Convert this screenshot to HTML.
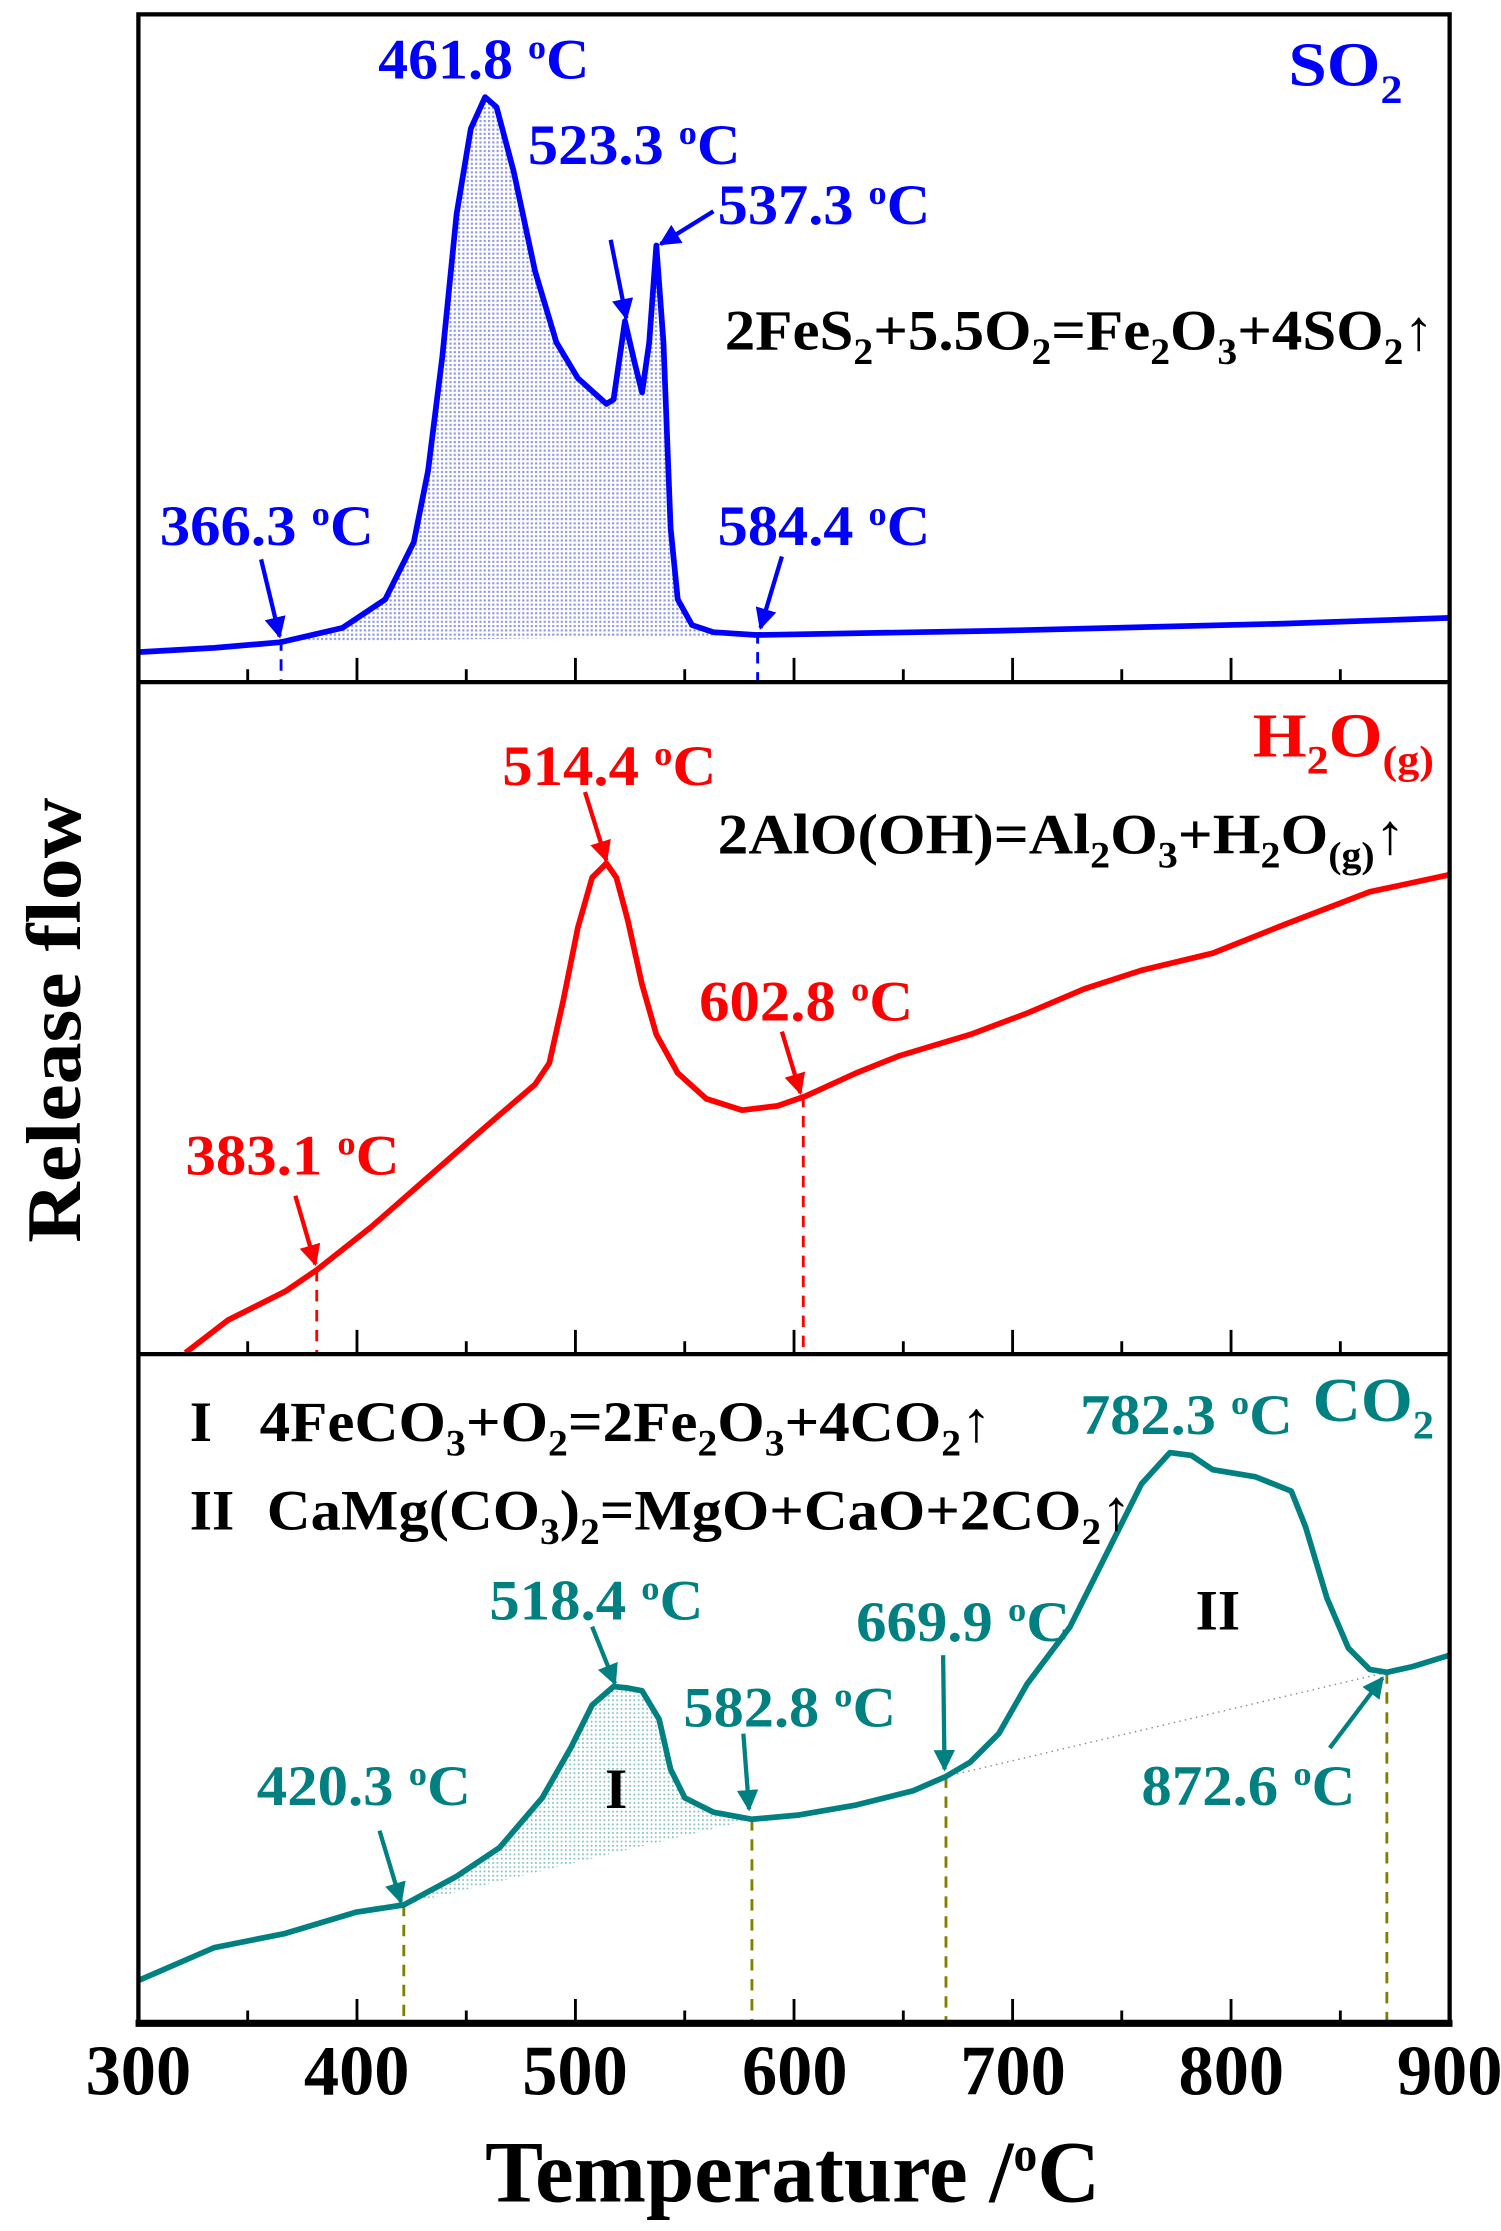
<!DOCTYPE html>
<html><head><meta charset="utf-8"><style>html,body{margin:0;padding:0;background:#fff}svg{display:block}</style></head>
<body>
<svg width="1501" height="2231" viewBox="0 0 1052 1563.5" xmlns="http://www.w3.org/2000/svg" font-family="Liberation Serif, serif" font-weight="bold">
<defs>
<pattern id="pb" width="3" height="3" patternUnits="userSpaceOnUse"><rect width="3" height="3" fill="#fff"/><rect width="1.5" height="1.5" fill="#8c96e6"/></pattern>
<pattern id="pt" width="3" height="3" patternUnits="userSpaceOnUse"><rect width="3" height="3" fill="#fff"/><rect width="1.2" height="1.2" fill="#7fbfbf"/></pattern>
<marker id="ab" viewBox="0 0 10 10" refX="9" refY="5" markerWidth="5" markerHeight="5" orient="auto"><path d="M0,0L10,5L0,10z" fill="#0000ff"/></marker>
<marker id="ar" viewBox="0 0 10 10" refX="9" refY="5" markerWidth="5" markerHeight="5" orient="auto"><path d="M0,0L10,5L0,10z" fill="#ff0000"/></marker>
<marker id="at" viewBox="0 0 10 10" refX="9" refY="5" markerWidth="5" markerHeight="5" orient="auto"><path d="M0,0L10,5L0,10z" fill="#008080"/></marker>
</defs>

<!-- SO2 fill -->
<path d="M197,450 L240,440 L270,420 L290,380 L300,330 L310,250 L320,150 L330,90 L340,68 L348,75 L360,120 L375,190 L390,240 L405,265 L425,283 L430,280 L438,225 L445,255 L450,275 L455,240 L460,172 L465,240 L470,370 L475,420 L485,438 L500,443 L530,445 Z" fill="url(#pb)"/>
<!-- CO2 fill I -->
<path d="M283,1335 L320,1315 L350,1295 L380,1260 L400,1225 L415,1195 L430,1182 L440,1183 L450,1185 L462,1205 L470,1240 L480,1260 L500,1270 L527,1275 Z" fill="url(#pt)"/>
<line x1="663" y1="1245" x2="972" y2="1172" stroke="#888" stroke-width="1" stroke-dasharray="1,3"/>

<!-- dashed lines -->
<g stroke-width="2" stroke-dasharray="8,6">
<line x1="197" y1="448" x2="197" y2="478" stroke="#0000ff"/>
<line x1="531" y1="443" x2="531" y2="478" stroke="#0000ff"/>
<line x1="222" y1="890" x2="222" y2="949" stroke="#ff0000"/>
<line x1="563" y1="768" x2="563" y2="949" stroke="#ff0000"/>
<line x1="283" y1="1335" x2="283" y2="1418" stroke="#808000"/>
<line x1="527" y1="1275" x2="527" y2="1418" stroke="#808000"/>
<line x1="663" y1="1245" x2="663" y2="1418" stroke="#808000"/>
<line x1="972" y1="1172" x2="972" y2="1418" stroke="#808000"/>
</g>

<!-- curves -->
<g fill="none" stroke-width="4" stroke-linejoin="round">
<path stroke="#0000ff" d="M97,457 L150,454 L197,450 L240,440 L270,420 L290,380 L300,330 L310,250 L320,150 L330,90 L340,68 L348,75 L360,120 L375,190 L390,240 L405,265 L425,283 L430,280 L438,225 L445,255 L450,275 L455,240 L460,172 L465,240 L470,370 L475,420 L485,438 L500,443 L530,445 L700,442 L900,437 L1016,433"/>
<path stroke="#ff0000" d="M130,948 L160,925 L200,905 L222,890 L260,860 L300,825 L340,790 L375,760 L385,745 L395,700 L405,650 L415,615 L425,605 L432,615 L440,645 L450,690 L460,725 L475,752 L495,770 L520,778 L545,775 L565,768 L600,752 L630,740 L680,725 L720,710 L760,693 L800,680 L850,668 L900,648 L960,625 L1016,613"/>
<path stroke="#008080" d="M97,1388 L150,1365 L200,1355 L250,1340 L283,1335 L320,1315 L350,1295 L380,1260 L400,1225 L415,1195 L430,1182 L440,1183 L450,1185 L462,1205 L470,1240 L480,1260 L500,1270 L527,1275 L560,1272 L600,1265 L640,1255 L663,1245 L680,1235 L700,1215 L720,1180 L750,1140 L775,1090 L800,1040 L820,1018 L835,1020 L850,1030 L880,1035 L905,1045 L915,1070 L930,1120 L945,1155 L960,1170 L972,1172 L990,1168 L1016,1160"/>
</g>

<!-- frame -->
<g stroke="#000" fill="none">
<rect x="97" y="10" width="919" height="1408" stroke-width="3"/>
<line x1="97" y1="478" x2="1016" y2="478" stroke-width="3"/>
<line x1="97" y1="949" x2="1016" y2="949" stroke-width="3"/>
<line x1="95" y1="1418" x2="1018" y2="1418" stroke-width="5"/>
<path stroke-width="2" d="M250.2,478v-17M403.3,478v-17M556.5,478v-17M709.7,478v-17M862.8,478v-17M173.6,478v-9M326.8,478v-9M479.9,478v-9M633.1,478v-9M786.2,478v-9M939.4,478v-9
M250.2,949v-17M403.3,949v-17M556.5,949v-17M709.7,949v-17M862.8,949v-17M173.6,949v-9M326.8,949v-9M479.9,949v-9M633.1,949v-9M786.2,949v-9M939.4,949v-9
M250.2,1418v-17M403.3,1418v-17M556.5,1418v-17M709.7,1418v-17M862.8,1418v-17M173.6,1418v-9M326.8,1418v-9M479.9,1418v-9M633.1,1418v-9M786.2,1418v-9M939.4,1418v-9"/>
</g>

<!-- tick labels -->
<g font-size="50" text-anchor="middle" fill="#000">
<text x="97" y="1468" textLength="74" lengthAdjust="spacingAndGlyphs">300</text>
<text x="250" y="1468" textLength="74" lengthAdjust="spacingAndGlyphs">400</text>
<text x="403" y="1468" textLength="74" lengthAdjust="spacingAndGlyphs">500</text>
<text x="557" y="1468" textLength="74" lengthAdjust="spacingAndGlyphs">600</text>
<text x="710" y="1468" textLength="74" lengthAdjust="spacingAndGlyphs">700</text>
<text x="863" y="1468" textLength="74" lengthAdjust="spacingAndGlyphs">800</text>
<text x="1016" y="1468" textLength="74" lengthAdjust="spacingAndGlyphs">900</text>
</g>
<text x="340" y="1543" font-size="62" textLength="431" lengthAdjust="spacingAndGlyphs">Temperature /<tspan dy="-22" font-size="34">o</tspan><tspan dy="22">C</tspan></text>
<text transform="translate(56,715) rotate(-90)" text-anchor="middle" font-size="54" textLength="312" lengthAdjust="spacingAndGlyphs">Release flow</text>

<!-- arrows -->
<g stroke-width="3">
<line x1="428" y1="168" x2="439" y2="223" stroke="#0000ff" marker-end="url(#ab)"/>
<line x1="500" y1="148" x2="463" y2="171" stroke="#0000ff" marker-end="url(#ab)"/>
<line x1="183" y1="392" x2="196" y2="446" stroke="#0000ff" marker-end="url(#ab)"/>
<line x1="548" y1="390" x2="533" y2="440" stroke="#0000ff" marker-end="url(#ab)"/>
<line x1="410" y1="555" x2="425" y2="603" stroke="#ff0000" marker-end="url(#ar)"/>
<line x1="548" y1="723" x2="561" y2="766" stroke="#ff0000" marker-end="url(#ar)"/>
<line x1="207" y1="838" x2="221" y2="886" stroke="#ff0000" marker-end="url(#ar)"/>
<line x1="415" y1="1140" x2="431" y2="1180" stroke="#008080" marker-end="url(#at)"/>
<line x1="521" y1="1215" x2="525" y2="1268" stroke="#008080" marker-end="url(#at)"/>
<line x1="661" y1="1160" x2="662" y2="1240" stroke="#008080" marker-end="url(#at)"/>
<line x1="266" y1="1283" x2="281" y2="1333" stroke="#008080" marker-end="url(#at)"/>
<line x1="932" y1="1225" x2="969" y2="1176" stroke="#008080" marker-end="url(#at)"/>
</g>

<!-- labels -->
<g font-size="40">
<g fill="#0000ff">
<text x="265" y="55" textLength="148" lengthAdjust="spacingAndGlyphs">461.8 <tspan dy="-14" font-size="24">o</tspan><tspan dy="14">C</tspan></text>
<text x="370" y="115" textLength="149" lengthAdjust="spacingAndGlyphs">523.3 <tspan dy="-14" font-size="24">o</tspan><tspan dy="14">C</tspan></text>
<text x="503" y="157" textLength="149" lengthAdjust="spacingAndGlyphs">537.3 <tspan dy="-14" font-size="24">o</tspan><tspan dy="14">C</tspan></text>
<text x="112" y="382" textLength="150" lengthAdjust="spacingAndGlyphs">366.3 <tspan dy="-14" font-size="24">o</tspan><tspan dy="14">C</tspan></text>
<text x="503" y="382" textLength="149" lengthAdjust="spacingAndGlyphs">584.4 <tspan dy="-14" font-size="24">o</tspan><tspan dy="14">C</tspan></text>
<text x="903" y="60" font-size="44" textLength="80" lengthAdjust="spacingAndGlyphs">SO<tspan dy="12" font-size="28">2</tspan></text>
</g>
<text x="508" y="245" fill="#000" textLength="497" lengthAdjust="spacingAndGlyphs">2FeS<tspan dy="10" font-size="26">2</tspan><tspan dy="-10">+5.5O</tspan><tspan dy="10" font-size="26">2</tspan><tspan dy="-10">=Fe</tspan><tspan dy="10" font-size="26">2</tspan><tspan dy="-10">O</tspan><tspan dy="10" font-size="26">3</tspan><tspan dy="-10">+4SO</tspan><tspan dy="10" font-size="26">2</tspan><tspan dy="-10">↑</tspan></text>

<g fill="#ff0000">
<text x="352" y="550" textLength="150" lengthAdjust="spacingAndGlyphs">514.4 <tspan dy="-14" font-size="24">o</tspan><tspan dy="14">C</tspan></text>
<text x="490" y="715" textLength="150" lengthAdjust="spacingAndGlyphs">602.8 <tspan dy="-14" font-size="24">o</tspan><tspan dy="14">C</tspan></text>
<text x="130" y="823" textLength="150" lengthAdjust="spacingAndGlyphs">383.1 <tspan dy="-14" font-size="24">o</tspan><tspan dy="14">C</tspan></text>
<text x="878" y="530" font-size="44" textLength="127" lengthAdjust="spacingAndGlyphs">H<tspan dy="12" font-size="28">2</tspan><tspan dy="-12">O</tspan><tspan dy="12" font-size="28">(g)</tspan></text>
</g>
<text x="503" y="598" fill="#000" textLength="482" lengthAdjust="spacingAndGlyphs">2AlO(OH)=Al<tspan dy="10" font-size="26">2</tspan><tspan dy="-10">O</tspan><tspan dy="10" font-size="26">3</tspan><tspan dy="-10">+H</tspan><tspan dy="10" font-size="26">2</tspan><tspan dy="-10">O</tspan><tspan dy="10" font-size="26">(g)</tspan><tspan dy="-10">↑</tspan></text>

<g fill="#008080">
<text x="343" y="1135" textLength="150" lengthAdjust="spacingAndGlyphs">518.4 <tspan dy="-14" font-size="24">o</tspan><tspan dy="14">C</tspan></text>
<text x="479" y="1210" textLength="149" lengthAdjust="spacingAndGlyphs">582.8 <tspan dy="-14" font-size="24">o</tspan><tspan dy="14">C</tspan></text>
<text x="600" y="1150" textLength="150" lengthAdjust="spacingAndGlyphs">669.9 <tspan dy="-14" font-size="24">o</tspan><tspan dy="14">C</tspan></text>
<text x="180" y="1265" textLength="150" lengthAdjust="spacingAndGlyphs">420.3 <tspan dy="-14" font-size="24">o</tspan><tspan dy="14">C</tspan></text>
<text x="800" y="1265" textLength="150" lengthAdjust="spacingAndGlyphs">872.6 <tspan dy="-14" font-size="24">o</tspan><tspan dy="14">C</tspan></text>
<text x="757" y="1005" textLength="149" lengthAdjust="spacingAndGlyphs">782.3 <tspan dy="-14" font-size="24">o</tspan><tspan dy="14">C</tspan></text>
<text x="920" y="996" font-size="44" textLength="85" lengthAdjust="spacingAndGlyphs">CO<tspan dy="12" font-size="28">2</tspan></text>
</g>
<g fill="#000">
<text x="424" y="1267">I</text>
<text x="838" y="1142">II</text>
<text x="133" y="1010">I</text>
<text x="182" y="1010" textLength="513" lengthAdjust="spacingAndGlyphs">4FeCO<tspan dy="10" font-size="26">3</tspan><tspan dy="-10">+O</tspan><tspan dy="10" font-size="26">2</tspan><tspan dy="-10">=2Fe</tspan><tspan dy="10" font-size="26">2</tspan><tspan dy="-10">O</tspan><tspan dy="10" font-size="26">3</tspan><tspan dy="-10">+4CO</tspan><tspan dy="10" font-size="26">2</tspan><tspan dy="-10">↑</tspan></text>
<text x="133" y="1072">II</text>
<text x="187" y="1072" textLength="606" lengthAdjust="spacingAndGlyphs">CaMg(CO<tspan dy="10" font-size="26">3</tspan><tspan dy="-10">)</tspan><tspan dy="10" font-size="26">2</tspan><tspan dy="-10">=MgO+CaO+2CO</tspan><tspan dy="10" font-size="26">2</tspan><tspan dy="-10">↑</tspan></text>
</g>
</g>
</svg>
</body></html>
